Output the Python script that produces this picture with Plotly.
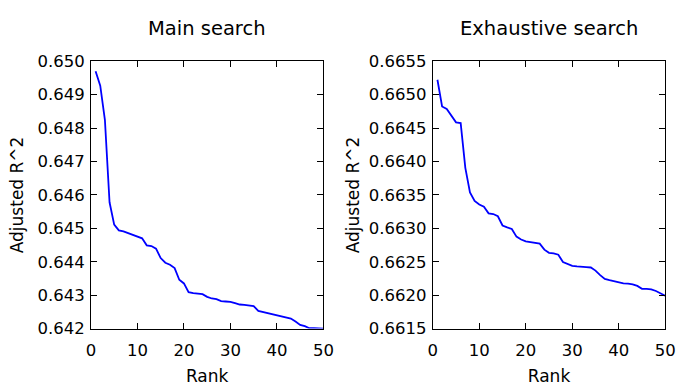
import plotly.graph_objects as go

rank = list(range(1, 51))

main_search = [
    0.64970, 0.64927, 0.64825, 0.64578, 0.64511, 0.64494, 0.64491, 0.64486, 0.64480, 0.64475,
    0.64470, 0.64449, 0.64447, 0.64439, 0.64411, 0.64397, 0.64391, 0.64381, 0.64346, 0.64335,
    0.64309, 0.64306, 0.64305, 0.64303, 0.64295, 0.64290, 0.64288, 0.64282, 0.64281, 0.64280,
    0.64276, 0.64272, 0.64271, 0.64268, 0.64267, 0.64253, 0.64250, 0.64246, 0.64243, 0.64239,
    0.64237, 0.64235, 0.64230, 0.64221, 0.64211, 0.64207, 0.64201, 0.64201, 0.64201, 0.64200,
]

exhaustive_search = [
    0.665224, 0.664824, 0.664786, 0.664695, 0.664586, 0.664576, 0.663905, 0.663538, 0.663410, 0.663357,
    0.663324, 0.663224, 0.663214, 0.663181, 0.663043, 0.663014, 0.662990, 0.662876, 0.662833, 0.662805,
    0.662795, 0.662790, 0.662771, 0.662681, 0.662633, 0.662624, 0.662605, 0.662495, 0.662462, 0.662438,
    0.662429, 0.662419, 0.662419, 0.662414, 0.662367, 0.662300, 0.662243, 0.662224, 0.662205, 0.662190,
    0.662176, 0.662171, 0.662162, 0.662138, 0.662095, 0.662095, 0.662086, 0.662062, 0.662030, 0.661990,
]

titles = ["Main search", "Exhaustive search"]
x_title = "Rank"
y_title = "Adjusted R^2"

W, H = 686, 388
FONT = "DejaVu Sans"

fig = go.Figure()
fig.add_trace(go.Scatter(x=rank, y=main_search, mode="lines",
                         line=dict(color="#0000ff", width=1.8), xaxis="x", yaxis="y",
                         showlegend=False))
fig.add_trace(go.Scatter(x=rank, y=exhaustive_search, mode="lines",
                         line=dict(color="#0000ff", width=1.8), xaxis="x2", yaxis="y2",
                         showlegend=False))

def px_x(p):
    return p / W

def px_y(p):
    return 1 - p / H

common_axis = dict(
    showline=True, linecolor="black", linewidth=1, mirror="allticks",
    ticks="inside", ticklen=6, tickwidth=1, tickcolor="black",
    showgrid=False, zeroline=False,
    tickfont=dict(family=FONT, size=16.5, color="black"),
)

xdom1 = [px_x(88), px_x(326)]
xdom2 = [px_x(438), px_x(676)]
ydom = [px_y(336), px_y(55)]

fig.update_layout(
    width=W, height=H,
    margin=dict(l=0, r=0, t=0, b=0),
    paper_bgcolor="white", plot_bgcolor="white",
    font=dict(family=FONT, color="black"),
    xaxis=dict(domain=xdom1, range=[0, 50], dtick=10, anchor="y", ticklabelstandoff=7,
               title=dict(text=x_title, font=dict(family=FONT, size=17), standoff=10),
               **common_axis),
    yaxis=dict(domain=ydom, range=[0.642, 0.650], dtick=0.001, tickformat=".3f", anchor="x",
               ticklabelstandoff=2,
               title=dict(text=y_title, font=dict(family=FONT, size=17), standoff=9),
               **common_axis),
    xaxis2=dict(domain=xdom2, range=[0, 50], dtick=10, anchor="y2", ticklabelstandoff=7,
                title=dict(text=x_title, font=dict(family=FONT, size=17), standoff=10),
                **common_axis),
    yaxis2=dict(domain=ydom, range=[0.6615, 0.6655], dtick=0.0005, tickformat=".4f", anchor="x2",
                ticklabelstandoff=2,
                title=dict(text=y_title, font=dict(family=FONT, size=17), standoff=4),
                **common_axis),
)

for i, t in enumerate(titles):
    dom = xdom1 if i == 0 else xdom2
    fig.add_annotation(text=t, x=(dom[0] + dom[1]) / 2, y=px_y(21), xref="paper", yref="paper",
                       showarrow=False, xanchor="center", yanchor="middle",
                       font=dict(family=FONT, size=19.5, color="black"))

fig.write_html("out.html")
